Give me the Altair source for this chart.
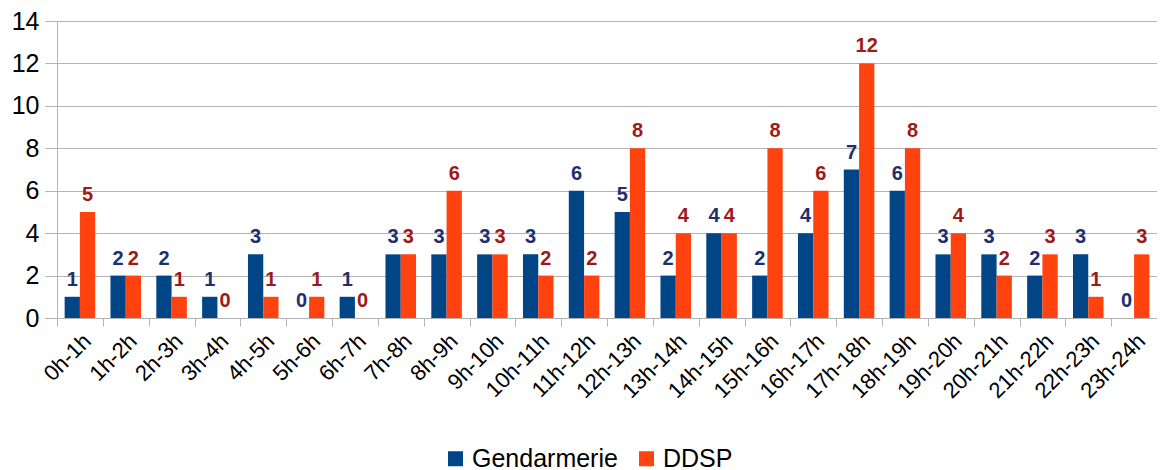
import altair as alt
import pandas as pd

hours = ["0h-1h", "1h-2h", "2h-3h", "3h-4h", "4h-5h", "5h-6h", "6h-7h", "7h-8h",
         "8h-9h", "9h-10h", "10h-11h", "11h-12h", "12h-13h", "13h-14h", "14h-15h",
         "15h-16h", "16h-17h", "17h-18h", "18h-19h", "19h-20h", "20h-21h",
         "21h-22h", "22h-23h", "23h-24h"]
series = ["Gendarmerie", "DDSP"]
gendarmerie = [1, 2, 2, 1, 3, 0, 1, 3, 3, 3, 3, 6, 5, 2, 4, 2, 4, 7, 6, 3, 3, 2, 3, 0]
ddsp = [5, 2, 1, 0, 1, 1, 0, 3, 6, 3, 2, 2, 8, 4, 4, 8, 6, 12, 8, 4, 2, 3, 1, 3]

bar_colors = ["#004586", "#ff420e"]
label_colors = ["#1f2f6e", "#9e1a1a"]

rows = []
for h, g, d in zip(hours, gendarmerie, ddsp):
    rows.append({"hour": h, "series": "Gendarmerie", "value": g})
    rows.append({"hour": h, "series": "DDSP", "value": d})
df = pd.DataFrame(rows)

FONT = "Liberation Sans"

x = alt.X("hour:N", sort=hours, title=None,
          scale=alt.Scale(paddingInner=0, paddingOuter=0),
          axis=alt.Axis(labelAngle=-45, labelFontSize=22, labelFont=FONT,
                        labelColor="#000000", tickBand="extent", tickSize=8,
                        tickColor="#b3b3b3", domainColor="#b3b3b3",
                        labelPadding=4, grid=False))
xoff = alt.XOffset("series:N", sort=series,
                   scale=alt.Scale(paddingInner=0, paddingOuter=0.5))
y = alt.Y("value:Q", title=None,
          scale=alt.Scale(domain=[0, 14], nice=False),
          axis=alt.Axis(values=list(range(0, 15, 2)), labelFontSize=25,
                        labelFont=FONT, labelColor="#000000", tickSize=12,
                        tickColor="#b3b3b3", domainColor="#b3b3b3",
                        gridColor="#b3b3b3", labelPadding=6))

base = alt.Chart(df)

bars = base.mark_bar().encode(
    x=x, xOffset=xoff, y=y,
    color=alt.Color("series:N", sort=series,
                    scale=alt.Scale(domain=series, range=bar_colors),
                    legend=alt.Legend(title=None, orient="none", direction="horizontal",
                                      legendX=386, legendY=425,
                                      symbolType="square", symbolSize=225,
                                      symbolStrokeWidth=0,
                                      labelFontSize=25, labelFont=FONT,
                                      labelColor="#000000", labelLimit=0,
                                      labelOffset=4, columnPadding=16)),
)

labels = base.mark_text(baseline="alphabetic", dy=-11, fontSize=20,
                        fontWeight="bold", font=FONT).encode(
    x=x, xOffset=xoff, y=y,
    text=alt.Text("value:Q"),
    color=alt.Color("series:N", sort=series,
                    scale=alt.Scale(domain=series, range=label_colors),
                    legend=None),
)

chart = alt.layer(bars, labels).resolve_scale(color="independent").properties(
    width=1100, height=297,
    autosize=alt.AutoSizeParams(type="none"),
    padding={"left": 49, "top": 13, "right": 0, "bottom": 152},
).configure_view(stroke=None).configure_axis(gridWidth=1)

chart.save("out.html", embed_options={"renderer": "svg", "actions": False})
